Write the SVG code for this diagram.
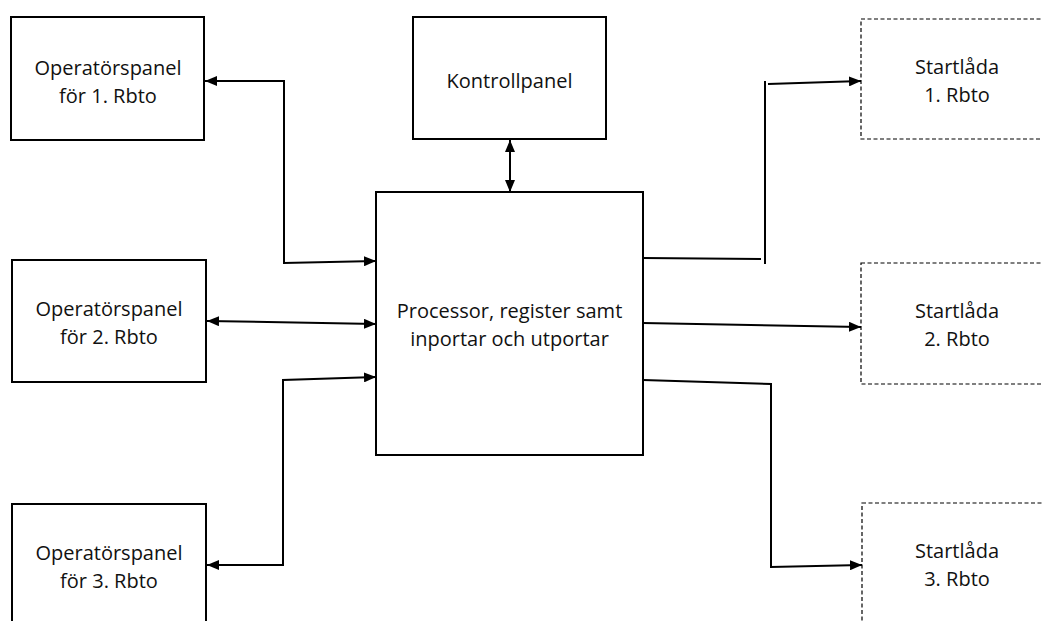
<svg xmlns="http://www.w3.org/2000/svg" width="1042" height="621" viewBox="0 0 1042 621">
<style>
  .box { fill: #fff; stroke: #000; stroke-width: 2; }
  .dbox { fill: #fff; stroke: #000; stroke-width: 1.2; stroke-dasharray: 4 2.5; }
  .lbl { font-family: "Open Sans", "Liberation Sans", sans-serif; font-size: 20px; fill: #111; text-anchor: middle; }
  .con { fill: none; stroke: #000; stroke-width: 2; }
</style>
<defs>
  <marker id="ah" viewBox="0 0 12 10" refX="12" refY="5" markerWidth="12" markerHeight="10" markerUnits="userSpaceOnUse" orient="auto-start-reverse">
    <path d="M0,0 L12,5 L0,10 Z" fill="#000"/>
  </marker>
</defs>
<rect width="1042" height="621" fill="#fff"/>

<g id="op1">
  <rect class="box" x="11" y="17" width="193" height="123"/>
  <text class="lbl" x="108" y="75">Operatörspanel</text>
  <text class="lbl" x="108" y="103">för 1. Rbto</text>
</g>
<g id="op2">
  <rect class="box" x="12" y="260" width="194" height="122"/>
  <text class="lbl" x="109" y="316">Operatörspanel</text>
  <text class="lbl" x="109" y="344">för 2. Rbto</text>
</g>
<g id="op3">
  <rect class="box" x="12" y="504" width="194" height="130"/>
  <text class="lbl" x="109" y="560">Operatörspanel</text>
  <text class="lbl" x="109" y="588">för 3. Rbto</text>
</g>
<g id="kontroll">
  <rect class="box" x="413" y="17" width="193" height="122"/>
  <text class="lbl" x="509.5" y="88">Kontrollpanel</text>
</g>
<g id="processor">
  <rect class="box" x="376" y="192" width="267" height="263"/>
  <text class="lbl" x="509.5" y="318">Processor, register samt</text>
  <text class="lbl" x="509.5" y="346">inportar och utportar</text>
</g>
<g id="start1">
  <rect class="dbox" x="861" y="19" width="192" height="120"/>
  <text class="lbl" x="957" y="74">Startlåda</text>
  <text class="lbl" x="957" y="102">1. Rbto</text>
</g>
<g id="start2">
  <rect class="dbox" x="861" y="263" width="192" height="121"/>
  <text class="lbl" x="957" y="318">Startlåda</text>
  <text class="lbl" x="957" y="346">2. Rbto</text>
</g>
<g id="start3">
  <rect class="dbox" x="862" y="503" width="192" height="130"/>
  <text class="lbl" x="957" y="558">Startlåda</text>
  <text class="lbl" x="957" y="586">3. Rbto</text>
</g>

<g id="connectors">
  <path class="con" d="M205,81 H284 V263 L376,261" marker-start="url(#ah)" marker-end="url(#ah)"/>
  <path class="con" d="M207,321 L376,324" marker-start="url(#ah)" marker-end="url(#ah)"/>
  <path class="con" d="M207,565 H283 V380 L376,377" marker-start="url(#ah)" marker-end="url(#ah)"/>
  <path class="con" d="M510,140 V192" marker-start="url(#ah)" marker-end="url(#ah)"/>
  <path class="con" d="M643,258 L761,259"/>
  <path class="con" d="M765,81 V264"/>
  <path class="con" d="M768,84 L861,81" marker-end="url(#ah)"/>
  <path class="con" d="M643,323 L861,327" marker-end="url(#ah)"/>
  <path class="con" d="M643,380 L771,384 V567 L862,565" marker-end="url(#ah)"/>
</g>
</svg>
